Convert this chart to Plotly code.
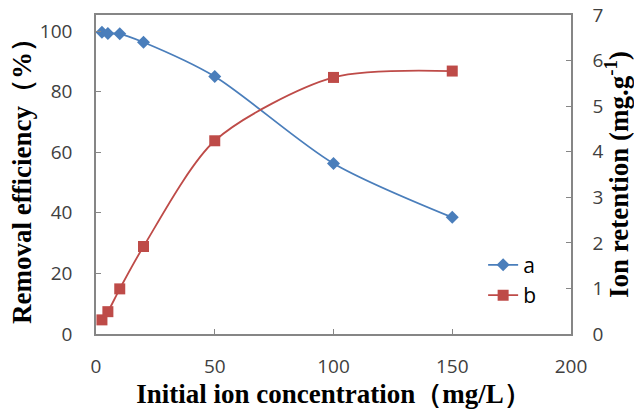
import plotly.graph_objects as go

conc = [2.5, 5, 10, 20, 50, 100, 150]
removal_a = [99.6, 99.2, 99.1, 96.3, 85.0, 56.3, 38.5]
retention_b = [0.31, 0.49, 0.99, 1.92, 4.24, 5.63, 5.77]

blue = "#4a7ebb"
red = "#be4b48"
axis_col = "#868686"
tick_font = dict(family="Open Sans, Noto Sans, sans-serif", size=19, color="#404040")
title_font = dict(family="Liberation Serif, Times New Roman, serif", size=27, color="black")

fig = go.Figure()
fig.add_trace(go.Scatter(
    x=conc, y=removal_a, name="a", mode="lines+markers",
    line=dict(color=blue, width=1.8, shape="spline", smoothing=0.8),
    marker=dict(symbol="diamond", size=10, color=blue),
))
fig.add_trace(go.Scatter(
    x=conc, y=retention_b, name="b", mode="lines+markers", yaxis="y2",
    line=dict(color=red, width=1.8, shape="spline", smoothing=0.8),
    marker=dict(symbol="square", size=11, color=red),
))

fig.update_layout(
    width=634, height=411,
    margin=dict(l=96, r=63, t=15, b=77),
    plot_bgcolor="white", paper_bgcolor="white",
    showlegend=True,
    legend=dict(x=0.815, y=0.28, xanchor="left", yanchor="top",
                font=dict(family="Open Sans, Noto Sans, sans-serif", size=21, color="black"),
                bgcolor="rgba(0,0,0,0)", itemwidth=30, tracegroupgap=4),
    xaxis=dict(range=[0, 200], tickvals=[0, 50, 100, 150, 200], automargin=False,
               showline=True, linecolor=axis_col, linewidth=1.5, mirror=True,
               ticks="inside", ticklen=5, tickcolor=axis_col, ticklabelstandoff=14,
               showgrid=False, zeroline=False, tickfont=tick_font,
               title=dict(text="<b>Initial ion concentration（mg/L）</b>", font=title_font, standoff=6)),
    yaxis=dict(range=[0, 105.3], tickvals=[0, 20, 40, 60, 80, 100], automargin=False,
               showline=True, linecolor=axis_col, linewidth=1.5,
               ticks="inside", ticklen=5, tickcolor=axis_col, ticklabelstandoff=18,
               showgrid=False, zeroline=False, tickfont=tick_font,
               title=dict(text="<b>Removal efficiency（%）</b>", font=title_font, standoff=0)),
    yaxis2=dict(range=[0, 7], tickvals=[0, 1, 2, 3, 4, 5, 6, 7], overlaying="y", side="right",
                automargin=False,
                showline=True, linecolor=axis_col, linewidth=1.5,
                ticks="inside", ticklen=5, tickcolor=axis_col, ticklabelstandoff=16,
                showgrid=False, zeroline=False, tickfont=tick_font,
                title=dict(text="<b>Ion retention (mg.g<sup>-1</sup>)</b>", font=title_font, standoff=0)),
)

fig.write_html("out.html")
